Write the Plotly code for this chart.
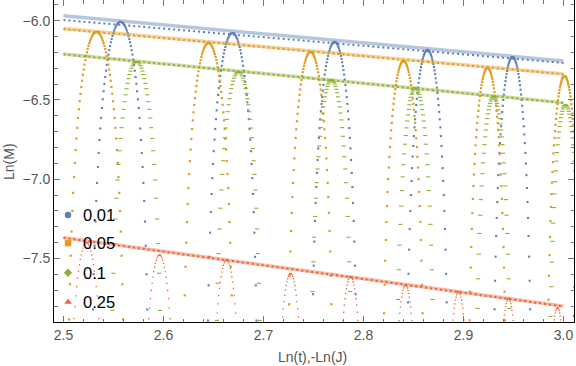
"""Ln(M) の振動とその包絡線 — 4 つのパラメータ値."""

import numpy as np
import plotly.graph_objects as go

# 各系列のピーク位置 (Ln t) とピークの高さ (Ln M)
blue_peak_x = [2.557, 2.669, 2.771, 2.864, 2.949, 3.027]
blue_peak_y = [-6.008, -6.078, -6.134, -6.185, -6.229, -6.270]
orange_peak_x = [2.533, 2.645, 2.747, 2.840, 2.924, 3.001]
orange_peak_y = [-6.071, -6.141, -6.197, -6.254, -6.298, -6.349]
green_peak_x = [2.573, 2.675, 2.768, 2.852, 2.930, 3.002]
green_peak_y = [-6.259, -6.322, -6.374, -6.424, -6.481, -6.531]
red_peak_x = [2.523, 2.596, 2.663, 2.727, 2.787, 2.842, 2.895, 2.945, 2.994]
red_peak_y = [-7.400, -7.477, -7.509, -7.593, -7.614, -7.667, -7.709, -7.750, -7.810]

# 山の形: ピークから k サンプル目での Ln M の落ち込み
blue_drop = [0.0, 0.0009, 0.0034, 0.0077, 0.0138, 0.0216, 0.0312, 0.0426, 0.0558,
             0.0710, 0.0882, 0.1074, 0.1287, 0.1523, 0.1781, 0.2064, 0.2374, 0.2711,
             0.3077, 0.3474, 0.3905, 0.4373, 0.4880, 0.5430, 0.605, 0.672, 0.745,
             0.826, 0.915, 1.015, 1.129, 1.259, 1.411, 1.591, 1.813, 2.102]
orange_drop = blue_drop
green_drop = [0.0, 0.0016, 0.0064, 0.0145, 0.0259, 0.0407, 0.0590, 0.0809, 0.1066,
              0.1364, 0.1702, 0.2087, 0.2520, 0.3005, 0.3550, 0.4160, 0.4843, 0.5611,
              0.6475, 0.7457, 0.8606, 0.9916, 1.1466, 1.3337, 1.568, 1.879, 2.338]
red_drop = [0.0, 0.0021, 0.0083, 0.0188, 0.0337, 0.0529, 0.0768, 0.1056, 0.1395,
            0.1789, 0.2244, 0.2762, 0.3352, 0.4024, 0.4790, 0.5662, 0.6677]

# サンプリング間隔 (t)
blue_dt = 0.0103
orange_dt = 0.0100
green_dt = 0.0130
red_dt = 0.0110

# フィット直線 (x = 2.5, 3.0 での値)
fit_x = [2.5, 3.0]
blue_fit = [-5.970, -6.254]
blue_env = [-5.996, -6.267]
orange_fit = [-6.050, -6.336]
orange_env = [-6.054, -6.338]
green_fit = [-6.210, -6.517]
green_env = [-6.212, -6.519]
red_fit = [-7.368, -7.800]
red_env = [-7.370, -7.802]

labels = ["0.01", "0.05", "0.1", "0.25"]

BLUE = "#5E81B5"
ORANGE = "#E19C24"
GREEN = "#8FB032"
RED = "#EB6235"
FONT = "Liberation Sans"
GRAY = "#555"


def arc_points(peak_x, peak_y, drop, dt):
    """各ピークのまわりに一定間隔 dt のサンプル点を並べる."""
    xs, ys = [], []
    n = len(drop)
    for px, py in zip(peak_x, peak_y):
        tp = np.exp(px)
        for k in range(-n + 1, n):
            xs.append(np.log(tp + k * dt))
            ys.append(py - drop[abs(k)])
    return xs, ys


def rgba(hex_color, a):
    h = hex_color.lstrip("#")
    r, g, b = (int(h[i:i + 2], 16) for i in (0, 2, 4))
    return f"rgba({r},{g},{b},{a})"


fig = go.Figure()

series = [
    (blue_peak_x, blue_peak_y, blue_drop, blue_dt, BLUE, {"symbol": "square", "size": 2.1}),
    (orange_peak_x, orange_peak_y, orange_drop, orange_dt, ORANGE, {"symbol": "square", "size": 2.2}),
    (green_peak_x, green_peak_y, green_drop, green_dt, GREEN,
     {"symbol": "line-ew", "size": 3, "line": {"width": 1.1, "color": GREEN}}),
    (red_peak_x, red_peak_y, red_drop, red_dt, RED, {"symbol": "square", "size": 1.3}),
]

for px, py, drop, dt, color, marker in series:
    xs, ys = arc_points(px, py, drop, dt)
    m = {"color": color, "line": {"width": 0}}
    m.update(marker)
    fig.add_trace(go.Scatter(
        x=xs, y=ys, mode="markers", marker=m,
        showlegend=False, hoverinfo="skip",
    ))

# フィット直線と包絡線
for fit, env, color in [
    (blue_fit, blue_env, BLUE),
    (orange_fit, orange_env, ORANGE),
    (green_fit, green_env, GREEN),
    (red_fit, red_env, RED),
]:
    fig.add_trace(go.Scatter(
        x=fit_x, y=fit, mode="lines",
        line={"color": rgba(color, 0.45), "width": 3.5},
        showlegend=False, hoverinfo="skip",
    ))
    fig.add_trace(go.Scatter(
        x=fit_x, y=env, mode="lines",
        line={"color": color, "width": 2, "dash": "2px,3px"},
        showlegend=False, hoverinfo="skip",
    ))

# 凡例（プロット領域内の相対位置）
legend_x = 0.027
legend_text_x = 0.051
legend_y = [0.332, 0.245, 0.153, 0.062]
legend_symbols = ["circle", "square", "diamond", "triangle-up"]
legend_colors = [BLUE, ORANGE, GREEN, RED]

fig.add_trace(go.Scatter(
    x=[legend_x] * len(labels), y=legend_y,
    xaxis="x2", yaxis="y2", mode="markers",
    marker={"symbol": legend_symbols, "color": legend_colors, "size": 6.5,
            "line": {"width": 0}},
    showlegend=False, hoverinfo="skip",
))
for label, y in zip(labels, legend_y):
    fig.add_annotation(
        x=legend_text_x, y=y, xref="paper", yref="paper",
        text=label, showarrow=False, xanchor="left", yanchor="middle",
        font={"family": FONT, "size": 16.5, "color": "black"},
    )

# 軸タイトル
fig.add_annotation(
    x=0.498, y=-0.109, xref="paper", yref="paper",
    text="Ln(t),-Ln(J)", showarrow=False, xanchor="center", yanchor="middle",
    font={"family": FONT, "size": 14, "color": GRAY},
)
fig.add_annotation(
    x=-0.0865, y=0.497, xref="paper", yref="paper", textangle=-90,
    text="Ln(M)", showarrow=False, xanchor="center", yanchor="middle",
    font={"family": FONT, "size": 14, "color": GRAY},
)

axis_common = {
    "ticks": "inside",
    "ticklen": 6,
    "tickwidth": 1,
    "tickcolor": "#777",
    "showline": True,
    "linecolor": "black",
    "linewidth": 1,
    "mirror": "ticks",
    "showgrid": False,
    "zeroline": False,
    "automargin": False,
    "tickformat": ".1f",
    "tickfont": {"family": FONT, "size": 14, "color": GRAY},
}

fig.update_layout(
    width=576,
    height=366,
    margin={"l": 54, "r": 2, "t": 0, "b": 44},
    paper_bgcolor="white",
    plot_bgcolor="white",
    showlegend=False,
    xaxis={
        **axis_common,
        "range": [2.4905, 3.0105],
        "tick0": 2.5,
        "dtick": 0.1,
        "minor": {"ticks": "inside", "ticklen": 3.5, "dtick": 0.02, "tick0": 2.5,
                  "tickcolor": "#777", "showgrid": False},
    },
    yaxis={
        **axis_common,
        "range": [-7.9, -5.87],
        "tick0": -6.0,
        "dtick": 0.5,
        "minor": {"ticks": "inside", "ticklen": 3.5, "dtick": 0.1, "tick0": -6.0,
                  "tickcolor": "#777", "showgrid": False},
    },
    xaxis2={"overlaying": "x", "range": [0, 1], "visible": False},
    yaxis2={"overlaying": "y", "range": [0, 1], "visible": False},
)

# ページ本体の余白をなくして図をウィンドウ左上に合わせる
fig.write_html(
    "out.html",
    config={"displayModeBar": False},
    post_script="document.body.style.margin = '0px';",
)
